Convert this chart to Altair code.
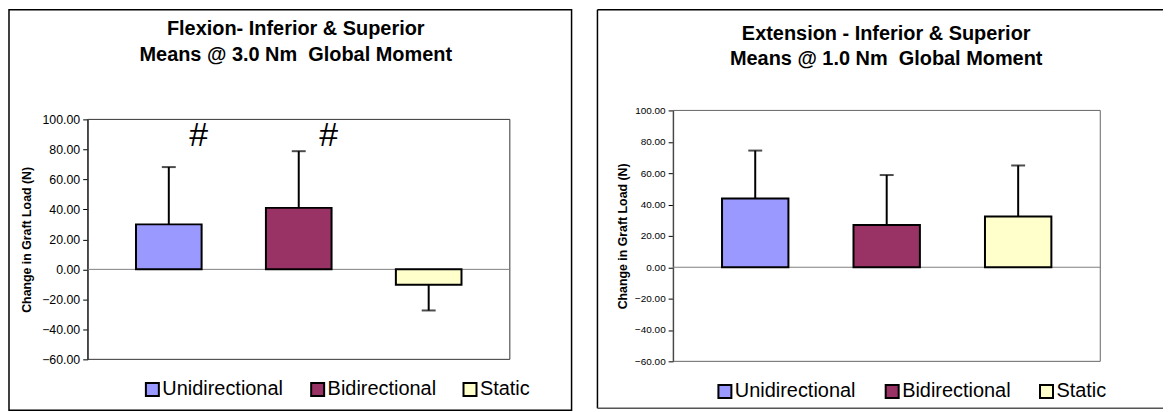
import altair as alt
import pandas as pd

# ---------------- data ----------------
groups = ["Unidirectional", "Bidirectional", "Static"]
colors = ["#9999FF", "#993366", "#FFFFCC"]

flex_means = [30.0, 41.0, -10.2]
flex_sd = [38.2, 37.8, 17.2]
flex_marks = ["#", "#", ""]
flex_title = ["Flexion- Inferior & Superior", "Means @ 3.0 Nm\u00a0 Global Moment"]

ext_means = [43.8, 26.9, 32.3]
ext_sd = [30.6, 31.9, 32.6]
ext_marks = ["", "", ""]
ext_title = ["Extension - Inferior & Superior", "Means @ 1.0 Nm\u00a0 Global Moment"]

y_ticks = [100, 80, 60, 40, 20, 0, -20, -40, -60]
y_title = "Change in Graft Load (N)"

FONT = "Liberation Sans"


def one():
    return pd.DataFrame({"k": [0]})


def panel(means, sds, marks, title, W, cfg):
    top, bottom = cfg["range"]
    H = bottom
    df = pd.DataFrame({"group": groups, "mean": means, "sd": sds, "mark": marks})
    df["end"] = [m + (s if m >= 0 else -s) for m, s in zip(means, sds)]

    xenc = alt.X("group:N", sort=groups, axis=None,
                 scale=alt.Scale(paddingInner=0.495, paddingOuter=0.372))
    yscale = alt.Scale(domain=[-60, 100], nice=False, zero=False, range=[bottom, top])
    yaxis = alt.Axis(values=y_ticks, tickCount=9, format=".2f", grid=False,
                     labelOverlap=False, labelFlush=False,
                     labelFontSize=cfg["label_size"], labelColor="black",
                     labelFont=FONT, labelPadding=3,
                     tickColor="black", tickSize=5, domainColor="black",
                     title=y_title, titleFont=FONT, titleFontSize=12.4,
                     titleFontWeight="bold", titleColor="black",
                     titleAngle=270, titleBaseline="middle",
                     titleX=cfg["title_x"], titleY=(top + bottom) / 2)

    base = alt.Chart(df)

    frame = alt.Chart(one()).mark_rect(fillOpacity=0, stroke=cfg["frame"],
                                       strokeWidth=1).encode(
        x=alt.value(0), x2=alt.value(W), y=alt.value(top), y2=alt.value(bottom))

    zero = alt.Chart(one()).mark_rule(color="#808080", strokeWidth=1).encode(
        y=alt.YDatum(0, type="quantitative", scale=yscale, axis=yaxis),
        x=alt.value(0), x2=alt.value(W))

    err = base.mark_rule(color="black", strokeWidth=2).encode(
        x=xenc, y=alt.Y("mean:Q", scale=yscale, axis=yaxis), y2="end:Q")

    cap = base.mark_tick(color="black", size=14, thickness=2).encode(
        x=xenc, y=alt.Y("end:Q", scale=yscale, axis=yaxis))

    bars = base.mark_bar(stroke="black", strokeWidth=2).encode(
        x=xenc, y=alt.Y("mean:Q", scale=yscale, axis=yaxis),
        color=alt.Color("group:N", sort=groups,
                        scale=alt.Scale(domain=groups, range=colors),
                        legend=alt.Legend(orient="none", direction="horizontal",
                                          legendX=cfg["leg_x"], legendY=cfg["leg_y"],
                                          title=None, symbolType="square",
                                          symbolSize=170, symbolStrokeColor="black",
                                          symbolStrokeWidth=2, symbolOpacity=1,
                                          labelFont=FONT, labelFontSize=20,
                                          labelColor="black", labelOffset=0,
                                          columnPadding=cfg["col_pad"], padding=0)))

    hashes = base.mark_text(font=FONT, fontSize=34, color="black", dx=30,
                            baseline="middle").encode(
        x=xenc, y=alt.YDatum(89, type="quantitative", scale=yscale, axis=yaxis),
        text="mark:N")

    t1 = alt.Chart(one()).mark_text(font=FONT, fontSize=20, fontWeight="bold",
                                    color="black", align="center",
                                    baseline="alphabetic").encode(
        x=alt.value(cfg["title_cx"]), y=alt.value(cfg["title_y1"]), text=alt.value(title[0]))
    t2 = alt.Chart(one()).mark_text(font=FONT, fontSize=20, fontWeight="bold",
                                    color="black", align="center",
                                    baseline="alphabetic").encode(
        x=alt.value(cfg["title_cx"]), y=alt.value(cfg["title_y2"]), text=alt.value(title[1]))

    bx0, bx1, by0, by1 = cfg["border"]
    if cfg["full_border"]:
        border = [alt.Chart(one()).mark_rect(fillOpacity=0, stroke="black",
                                             strokeWidth=1.5).encode(
            x=alt.value(bx0), x2=alt.value(bx1), y=alt.value(by0), y2=alt.value(by1))]
    else:
        border = [
            alt.Chart(one()).mark_rule(color="black", strokeWidth=1.5).encode(
                x=alt.value(bx0), x2=alt.value(bx1), y=alt.value(by0)),
            alt.Chart(one()).mark_rule(color="black", strokeWidth=1.5).encode(
                x=alt.value(bx0), y=alt.value(by0), y2=alt.value(by1)),
            alt.Chart(one()).mark_rule(color="#555555", strokeWidth=1.5).encode(
                x=alt.value(bx0), x2=alt.value(bx1), y=alt.value(by1)),
        ]

    layers = border + [t1, t2, frame, zero, err, cap, bars, hashes]
    return alt.layer(*layers).properties(
        width=W, height=H,
        view=alt.ViewBackground(strokeWidth=0))


# shared origin (plot-area origin) is at page y ~109
left = panel(flex_means, flex_sd, flex_marks, flex_title, 424, {
    "range": (9, 250),
    "label_size": 12.4, "title_x": -61, "leg_x": 55, "leg_y": 270, "col_pad": 23,
    "title_cx": 209, "title_y1": -75.5, "title_y2": -49.5,
    "border": (-79, 486, -101, 301), "full_border": True, "frame": "#333333"})

right = panel(ext_means, ext_sd, ext_marks, ext_title, 429, {
    "range": (0, 252),
    "label_size": 10, "title_x": -51, "leg_x": 42, "leg_y": 272, "col_pad": 25,
    "title_cx": 214, "title_y1": -70.5, "title_y2": -45.5,
    "border": (-76, 492, -101, 299), "full_border": False, "frame": "#666666"})

chart = (alt.hconcat(left, right, spacing=24)
         .resolve_scale(color="independent", y="independent")
         .resolve_legend(color="independent")
         .properties(padding=0)
         .configure(font=FONT))

chart.save("out.html", embed_options={"renderer": "svg", "actions": False})
